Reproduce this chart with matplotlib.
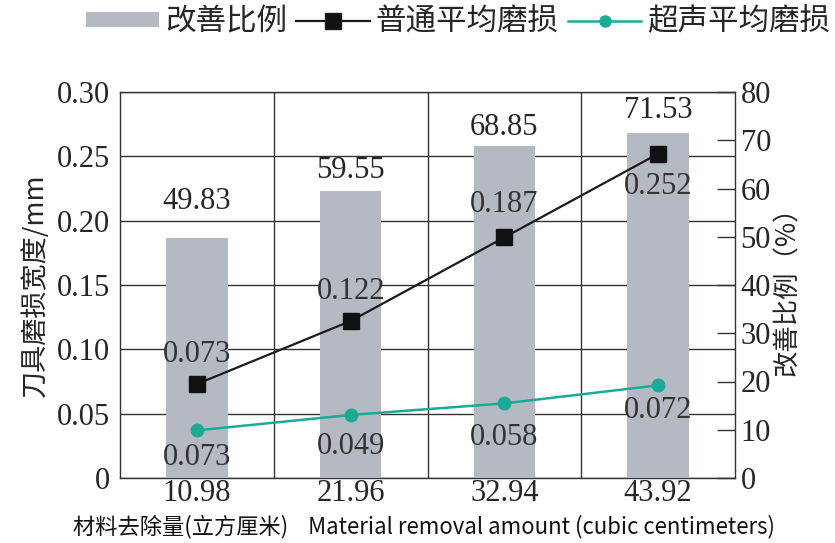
import matplotlib
matplotlib.use("Agg")
import matplotlib.pyplot as plt
from matplotlib.lines import Line2D
from matplotlib.patches import Patch
import numpy as np

categories = ["10.98", "21.96", "32.94", "43.92"]
improve = [49.83, 59.55, 68.85, 71.53]
normal_wear = [0.073, 0.122, 0.187, 0.252]
ultra_wear = [0.037, 0.049, 0.058, 0.072]
normal_labels = ["0.073", "0.122", "0.187", "0.252"]
ultra_labels = ["0.073", "0.049", "0.058", "0.072"]
left_ticks = [0, 0.05, 0.10, 0.15, 0.20, 0.25, 0.30]
left_tick_labels = ["0", "0.05", "0.10", "0.15", "0.20", "0.25", "0.30"]
right_ticks = [0, 10, 20, 30, 40, 50, 60, 70, 80]

CJK = ["Noto Sans CJK SC", "DejaVu Sans"]
NUM = "Liberation Serif"
BAR_C = "#b5b9c1"
TEAL = "#1aab96"
FS = 22
TXT = "#262626"

fig = plt.figure(figsize=(8.35, 5.43), dpi=100)
pos = [120 / 835, 65 / 543, 615 / 835, 386 / 543]

x = np.arange(len(categories))

# grid layer
axg = fig.add_axes(pos, zorder=0)
axg.set_xlim(-0.5, 3.5)
axg.set_ylim(0, 0.30)
for xv in x[:-1] + 0.5:
    axg.axvline(xv, color="#333333", lw=1.0)
for yv in left_ticks:
    axg.axhline(yv, color="#333333", lw=1.0)
axg.set_xticks([])
axg.set_yticks([])
for s in axg.spines.values():
    s.set_color("#333333")
    s.set_linewidth(1.0)

# bar layer (right axis)
axb = fig.add_axes(pos, zorder=1)
axb.patch.set_visible(False)
axb.bar(x, improve, width=0.4, color=BAR_C)
axb.set_xlim(-0.5, 3.5)
axb.set_ylim(0, 80)
axb.yaxis.tick_right()
axb.set_yticks(right_ticks)
axb.set_yticklabels([str(v) for v in right_ticks], fontfamily=NUM, fontsize=FS, color=TXT)
axb.tick_params(axis="y", direction="in", length=13, width=1.0, color="#333333", pad=4)
axb.set_xticks([])
for s in axb.spines.values():
    s.set_visible(False)
bar_gap = [4.5, 1.2, 0.8, 1.6]
for xi, v, g in zip(x, improve, bar_gap):
    axb.text(xi, v + g, f"{v:.2f}", ha="center", va="bottom", fontfamily=NUM,
             fontsize=FS, color=TXT)
axb.yaxis.set_label_position("right")
axb.set_ylabel("改善比例（%）", family=CJK, fontsize=19, rotation=90, labelpad=2, color=TXT)

# line layer (left axis)
ax = fig.add_axes(pos, zorder=2)
ax.patch.set_visible(False)
ax.plot(x, normal_wear, color="#1a1a1a", lw=1.6, marker="s", ms=11, mfc="#111111", mec="#111111")
ax.plot(x, ultra_wear, color=TEAL, lw=1.8, marker="o", ms=9, mfc=TEAL, mec=TEAL)
ax.set_xlim(-0.5, 3.5)
ax.set_ylim(0, 0.30)
ax.set_yticks(left_ticks)
ax.set_yticklabels(left_tick_labels, fontfamily=NUM, fontsize=FS, color=TXT)
ax.set_xticks(x)
ax.set_xticklabels(categories, fontfamily=NUM, fontsize=FS, color=TXT)
ax.tick_params(axis="y", length=0, pad=7)
ax.tick_params(axis="x", length=0, pad=1)
for s in ax.spines.values():
    s.set_visible(False)
ax.set_ylabel("刀具磨损宽度/mm", family=CJK, fontsize=19.5, labelpad=6, color=TXT)

# data labels for normal wear
offs_n = [(0.012, "bottom"), (0.012, "bottom"), (0.014, "bottom"), (-0.014, "top")]
for xi, v, lab, (dy, va) in zip(x, normal_wear, normal_labels, offs_n):
    ax.text(xi, v + dy, lab, ha="center", va=va, fontfamily=NUM, fontsize=FS, color="#333333")
offs_u = [-0.010, -0.013, -0.015, -0.008]
for xi, v, lab, dy in zip(x, ultra_wear, ultra_labels, offs_u):
    ax.text(xi, v + dy, lab, ha="center", va="top", fontfamily=NUM, fontsize=FS, color="#333333")

# legend
handles = [
    Patch(facecolor=BAR_C, edgecolor="none", label="改善比例"),
    Line2D([], [], color="#1a1a1a", lw=1.6, marker="s", ms=11, mfc="#111111", label="普通平均磨损"),
    Line2D([], [], color=TEAL, lw=1.8, marker="o", ms=8, mfc=TEAL, label="超声平均磨损"),
]
fig.legend(handles=handles, loc="center", bbox_to_anchor=(458 / 835, 1 - 22 / 543), ncol=3,
           frameon=False, prop={"family": CJK, "size": 22}, handlelength=2.4, handleheight=0.4,
           handletextpad=0.2, columnspacing=0.3, labelcolor=TXT, borderaxespad=0)

fig.text(424 / 835, 1 - 527 / 543, "材料去除量(立方厘米)    Material removal amount (cubic centimeters)",
         ha="center", va="center", family=["Noto Sans CJK SC", "DejaVu Sans"], fontsize=16, color="#111111")

fig.savefig("out.png", dpi=100)
